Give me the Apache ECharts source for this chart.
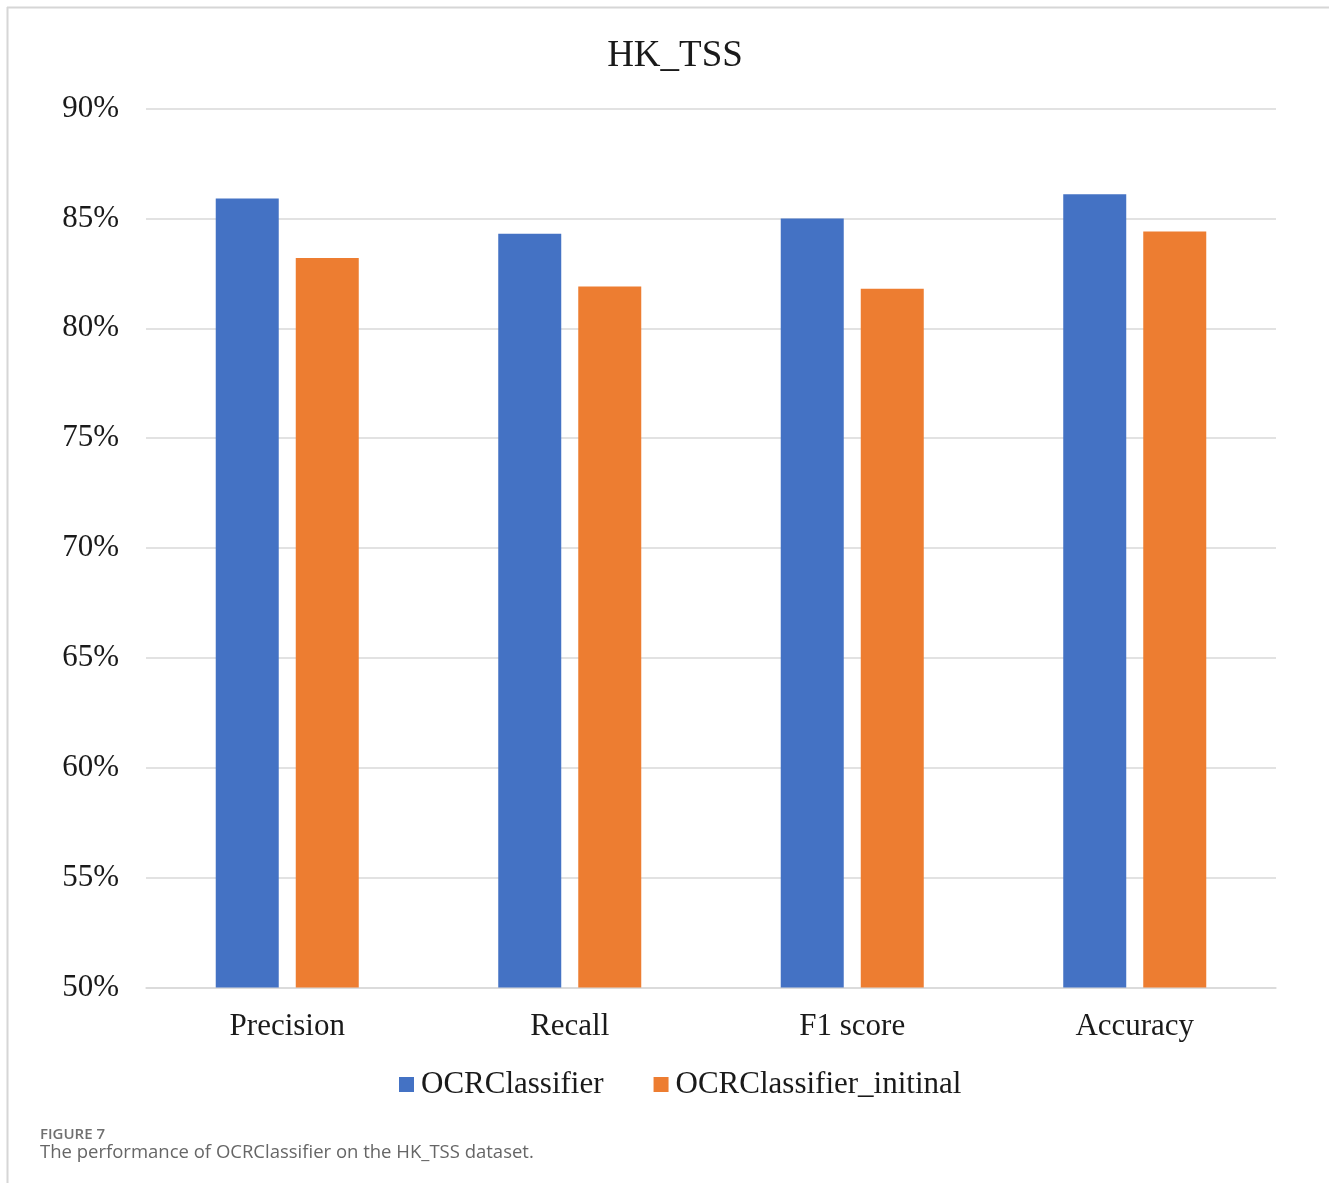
<!DOCTYPE html>
<html>
<head>
<meta charset="utf-8">
<script src="https://cdn.jsdelivr.net/npm/echarts@6/dist/echarts.min.js"></script>
<style>
  html, body { margin: 0; padding: 0; background: #ffffff; }
  #chart { width: 1329px; height: 1183px; }
</style>
</head>
<body>
<div id="chart"></div>
<script>
// Metric names along the x axis
const categories = ['Precision', 'Recall', 'F1 score', 'Accuracy'];
// Scores in percent for each model variant
const ocrClassifier = [85.9, 84.3, 85.0, 86.1];
const ocrClassifierInitial = [83.2, 81.9, 81.8, 84.4];
// Series names shown in the legend
const seriesNames = ['OCRClassifier', 'OCRClassifier_initinal'];
// Value axis range and step (percent)
const yMin = 50, yMax = 90, yStep = 5;

const serif = '"Liberation Serif", "Times New Roman", serif';
const sans = '"Open Sans", "Noto Sans", sans-serif';

const chart = echarts.init(document.getElementById('chart'), null, { renderer: 'canvas' });

chart.setOption({
  backgroundColor: '#ffffff',
  animation: false,
  color: ['#4472C4', '#ED7D31'],
  grid: { left: 146, right: 53, top: 108.5, bottom: 195.5, containLabel: false },
  legend: {
    data: seriesNames,
    left: 394,
    top: 1064,
    icon: 'rect',
    itemWidth: 15,
    itemHeight: 15,
    itemGap: 50,
    textStyle: { fontFamily: serif, fontSize: 31, color: '#1a1a1a', padding: [0, 0, 0, 2] }
  },
  xAxis: {
    type: 'category',
    data: categories,
    axisLine: { lineStyle: { color: '#d9d9d9', width: 1.5 } },
    axisTick: { show: false },
    axisLabel: { fontFamily: serif, fontSize: 31, color: '#1a1a1a', margin: 24 }
  },
  yAxis: {
    type: 'value',
    min: yMin,
    max: yMax,
    interval: yStep,
    axisLine: { show: false },
    axisTick: { show: false },
    axisLabel: { fontFamily: serif, fontSize: 31, color: '#1a1a1a', margin: 27, padding: [5, 0, 0, 0], formatter: '{value}%' },
    splitLine: { lineStyle: { color: '#d9d9d9', width: 1.5 } }
  },
  series: [
    { name: seriesNames[0], type: 'bar', data: ocrClassifier, barWidth: 63, barGap: '27%' },
    { name: seriesNames[1], type: 'bar', data: ocrClassifierInitial, barWidth: 63, barGap: '27%' }
  ],
  graphic: [
    // frame lines
    { type: 'line', shape: { x1: 7, y1: 7.5, x2: 1329, y2: 7.5 }, style: { stroke: '#d6d6d6', lineWidth: 2 } },
    { type: 'line', shape: { x1: 7.5, y1: 7, x2: 7.5, y2: 1183 }, style: { stroke: '#d6d6d6', lineWidth: 2 } },
    // chart heading
    { type: 'text', x: 675, y: 38, style: { text: 'HK_TSS', font: '37px ' + serif, fill: '#1a1a1a', align: 'center', verticalAlign: 'top' } },
    // caption below the chart
    { type: 'text', x: 40, y: 1127, style: { text: 'FIGURE 7', font: '600 15px ' + sans, fill: '#707070', align: 'left', verticalAlign: 'top' } },
    { type: 'text', x: 40, y: 1143, style: { text: 'The performance of OCRClassifier on the HK_TSS dataset.', font: '18.5px ' + sans, fill: '#666666', align: 'left', verticalAlign: 'top' } }
  ]
});
</script>
</body>
</html>
